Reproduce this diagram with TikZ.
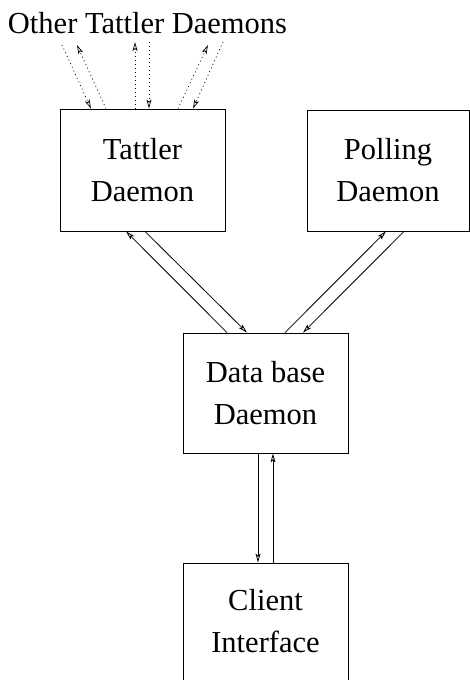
\documentclass[tikz,border=0pt]{standalone}
\usepackage{fontspec}
\setmainfont{Liberation Serif}
\usetikzlibrary{arrows.meta}

\begin{document}
\begin{tikzpicture}[x=1pt, y=-1pt]

      \tikzset{daemon/.style={draw, rectangle, line width=0.8pt, inner sep=0pt, align=center,
                font=\fontsize{30.5}{42}\selectfont},
               flow/.style={line width=0.8pt, -{Stealth[open, length=9pt, width=5pt, inset=2pt]}},
               gossip/.style={flow, line width=0.7pt, dash pattern=on 1pt off 3pt}}
      \useasboundingbox (0,0) rectangle (470,680);
%% Daemons
      	\node[daemon, minimum width=165pt, minimum height=122pt] (tattler) at (142.5,170) {Tattler\\Daemon};
      	\node[daemon, minimum width=162pt, minimum height=121pt] (polling) at (388,170.5) {Polling\\Daemon};
      	\node[daemon, minimum width=165pt, minimum height=120pt] (database) at (265.5,393) {Data base\\Daemon};
      	\node[daemon, minimum width=165pt, minimum height=117pt] (client) at (265.5,621.5) {Client\\Interface};
      	\node[font=\fontsize{30.5}{42}\selectfont, anchor=base, inner sep=0pt] (others) at (147.5,33) {Other Tattler Daemons};
%% Ends of the gossip arrows
      	\coordinate (o1) at (62,45);
      	\coordinate (o2) at (77,45);
      	\coordinate (o3) at (135,42);
      	\coordinate (o4) at (149,42);
      	\coordinate (o5) at (208,45);
      	\coordinate (o6) at (223,42);
%Edges
		\path[gossip] (o1) edge ([xshift=-51.5pt]tattler.north);
		\path[gossip] ([xshift=-36.5pt]tattler.north) edge (o2);
		\path[gossip] ([xshift=-7.5pt]tattler.north) edge (o3);
		\path[gossip] (o4) edge ([xshift=6.5pt]tattler.north);
		\path[gossip] ([xshift=35.5pt]tattler.north) edge (o5);
		\path[gossip] (o6) edge ([xshift=50.5pt]tattler.north);

		\path[flow] ([xshift=-38.5pt]database.north) edge ([xshift=-16.5pt]tattler.south);
		\path[flow] ([xshift=2.5pt]tattler.south) edge ([xshift=-18.5pt]database.north);
		\path[flow] ([xshift=19.5pt]database.north) edge ([xshift=-2pt]polling.south);
		\path[flow] ([xshift=16pt]polling.south) edge ([xshift=37.5pt]database.north);

		\path[flow] ([xshift=-7.5pt]database.south) edge ([xshift=-7.5pt]client.north);
		\path[flow] ([xshift=7.5pt]client.north) edge ([xshift=7.5pt]database.south);

	\end{tikzpicture}
\end{document}
